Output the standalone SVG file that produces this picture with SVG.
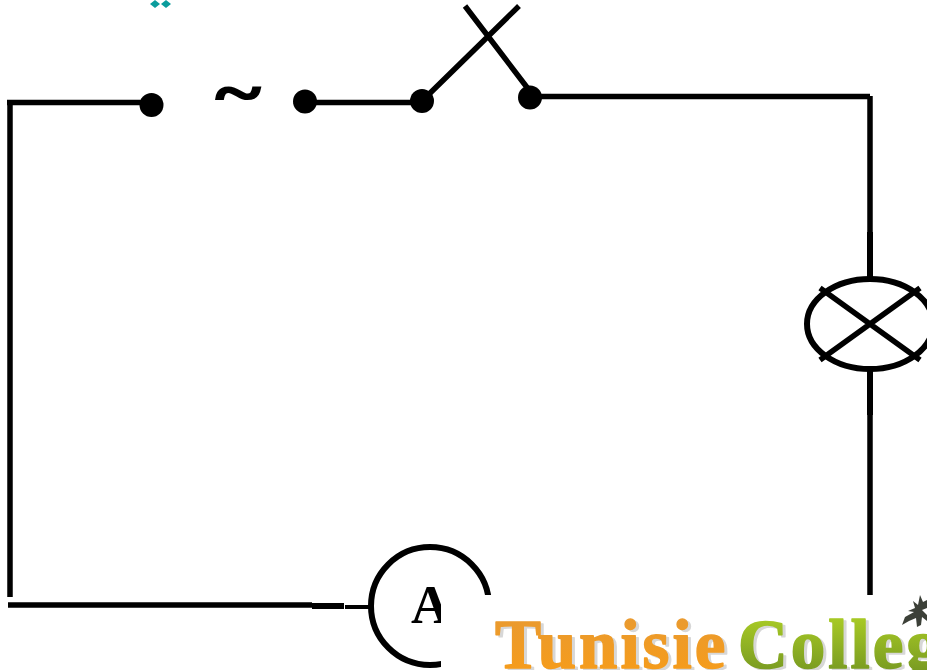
<svg xmlns="http://www.w3.org/2000/svg" width="927" height="670" viewBox="0 0 927 670">
<style>
.w{fill:none;stroke:#000;stroke-width:5.500}
.t{stroke-width:6}
.n{stroke-width:4}
.d{fill:#000}
.s{font-family:"Liberation Serif",serif;font-weight:bold}
.logo{font-family:"Liberation Serif",serif;font-weight:bold;font-size:69px;letter-spacing:3px;stroke-width:1.500px;stroke-linejoin:round}
</style>
<defs>
<linearGradient id="o" gradientUnits="userSpaceOnUse" x1="0" y1="620" x2="0" y2="670"><stop offset="0" stop-color="#ea9a2e"/><stop offset="1" stop-color="#f59c1c"/></linearGradient>
<linearGradient id="g" gradientUnits="userSpaceOnUse" x1="0" y1="620" x2="0" y2="670"><stop offset="0" stop-color="#a6c825"/><stop offset="1" stop-color="#7a9c22"/></linearGradient>
</defs>
<rect width="927" height="670" fill="#fff"/>
<g id="connectors" class="w">
<path d="M7 102.500H150M10 102V597M8 605H312"/>
<path class="n" d="M345 607H371"/>
<path class="t" d="M312 606H344"/>
<path d="M305 102.500H422M530 96.500H870M870 96V232M870 415V595"/>
<path class="t" d="M870 232V277M870 370V415"/>
</g>
<g id="source">
<circle class="d" cx="151.500" cy="105" r="12"/>
<circle class="d" cx="305" cy="101.500" r="12"/>
<text class="s" x="238" y="121" font-size="85" text-anchor="middle" stroke="#000" stroke-width="3" transform="translate(238 94) scale(1 .72) translate(-238 -94)">~</text>
<path d="M155 0l5 4-5 4-5-4zM166 0l5 4-5 4-5-4z" fill="#0a9c9c"/>
</g>
<g id="switch">
<circle class="d" cx="422" cy="101" r="12"/>
<circle class="d" cx="530" cy="97.500" r="12"/>
<path class="w" d="M422 101L519 6M465 6L529 90"/>
</g>
<g id="lamp">
<ellipse class="w t" cx="870" cy="324" rx="63" ry="45"/>
<path class="w" d="M820 288L920 360M820 360L920 288"/>
</g>
<g id="ammeter">
<circle class="w t" cx="430" cy="606" r="59"/>
<text class="s" x="411" y="622.500" font-size="54">A</text>
</g>
<g id="logo">
<path d="M441 595H927V670H441z" fill="#fff"/>
<text class="logo" x="498" y="670" fill="#b8b8b8" stroke="#b8b8b8" opacity=".55">Tunisie</text>
<text class="logo" x="741" y="670" fill="#b8b8b8" stroke="#b8b8b8" opacity=".55">College</text>
<text class="logo" x="495" y="668" fill="url(#o)" stroke="url(#o)">Tunisie</text>
<text class="logo" x="738" y="668" fill="url(#g)" stroke="url(#g)">College</text>
<path d="M920 595l3 7 4-2v8l-5 2 5 5v6l-5-4-1 8-4 2-1-9-7 3-7 4 3-8 9-5-6-1 7-3-2-7 5 4z" fill="#3c4038"/>
</g>
</svg>
